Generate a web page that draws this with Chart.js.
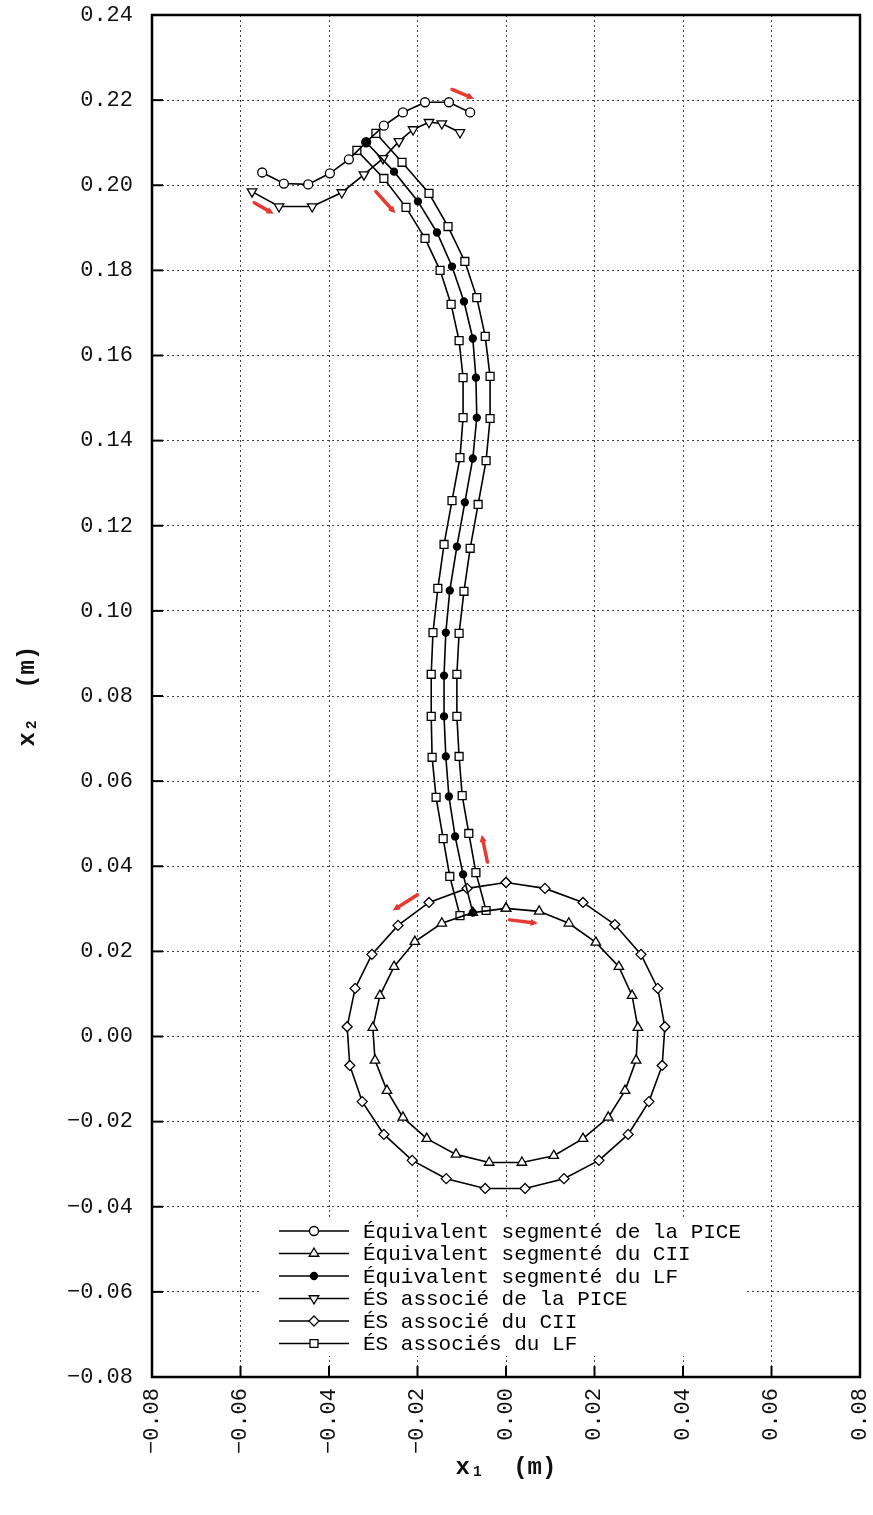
<!DOCTYPE html>
<html>
<head>
<meta charset="utf-8">
<script src="https://cdn.jsdelivr.net/npm/chart.js@4.4.1/dist/chart.umd.min.js"></script>
<style>
html, body { margin: 0; padding: 0; background: #fff; }
canvas { display: block; }
</style>
</head>
<body>
<canvas id="chart" width="873" height="1515"></canvas>
<script>
// ================= TICKS =================
const xTicks = [-0.08, -0.06, -0.04, -0.02, 0.00, 0.02, 0.04, 0.06, 0.08];
const yTicks = [-0.08, -0.06, -0.04, -0.02, 0.00, 0.02, 0.04, 0.06, 0.08,
                0.10, 0.12, 0.14, 0.16, 0.18, 0.20, 0.22, 0.24];

// ================= SERIES =================
// Équivalent segmenté de la PICE
const piceX = [-0.0551, -0.0502, -0.0447, -0.0398, -0.0355, -0.0316, -0.0276, -0.0233, -0.0183, -0.0129, -0.0081];
const piceY = [0.2030, 0.2004, 0.2002, 0.2028, 0.2061, 0.2101, 0.2140, 0.2171, 0.2195, 0.2195, 0.2171];

// Équivalent segmenté du CII (closed loop)
const ciiX = [0.0000, 0.0075, 0.0142, 0.0203, 0.0255, 0.0285, 0.0298, 0.0294, 0.0269, 0.0231, 0.0174, 0.0108, 0.0036,
              -0.0038, -0.0113, -0.0179, -0.0233, -0.0269, -0.0296, -0.0301, -0.0285, -0.0253, -0.0206, -0.0145, -0.0075, 0.0000];
const ciiY = [0.0301, 0.0294, 0.0266, 0.0221, 0.0164, 0.0096, 0.0021, -0.0056, -0.0127, -0.0190, -0.0240, -0.0280, -0.0296,
              -0.0296, -0.0277, -0.0240, -0.0190, -0.0127, -0.0056, 0.0021, 0.0096, 0.0164, 0.0223, 0.0266, 0.0291, 0.0301];

// Équivalent segmenté du LF
const lfX = [-0.0316, -0.0253, -0.0199, -0.0156, -0.0122, -0.0095, -0.0075, -0.0068, -0.0066, -0.0075, -0.0093,
             -0.0111, -0.0127, -0.0136, -0.0140, -0.0140, -0.0136, -0.0129, -0.0115, -0.0097, -0.0075];
const lfY = [0.2101, 0.2032, 0.1962, 0.1889, 0.1809, 0.1727, 0.1640, 0.1548, 0.1454, 0.1358, 0.1255,
             0.1151, 0.1048, 0.0949, 0.0848, 0.0752, 0.0658, 0.0564, 0.0470, 0.0381, 0.0291];

// ÉS associé de la PICE
const esPiceX = [-0.0574, -0.0513, -0.0438, -0.0371, -0.0321, -0.0278, -0.0242, -0.0210, -0.0174, -0.0145, -0.0104];
const esPiceY = [0.1985, 0.1950, 0.1950, 0.1983, 0.2025, 0.2063, 0.2103, 0.2131, 0.2148, 0.2145, 0.2124];

// ÉS associé du CII (closed loop)
const esCiiX = [0.0000, 0.0088, 0.0174, 0.0246, 0.0305, 0.0343, 0.0359, 0.0353, 0.0323, 0.0276, 0.0210, 0.0131, 0.0043,
                -0.0047, -0.0135, -0.0212, -0.0276, -0.0325, -0.0353, -0.0359, -0.0341, -0.0303, -0.0244, -0.0174, -0.0088, 0.0000];
const esCiiY = [0.0362, 0.0348, 0.0315, 0.0263, 0.0193, 0.0113, 0.0023, -0.0068, -0.0153, -0.0230, -0.0291, -0.0334, -0.0357,
                -0.0357, -0.0334, -0.0291, -0.0230, -0.0153, -0.0068, 0.0023, 0.0113, 0.0193, 0.0261, 0.0315, 0.0348, 0.0362];

// ÉS associés du LF (two branches)
const esLfLeftX = [-0.0337, -0.0276, -0.0226, -0.0183, -0.0149, -0.0124, -0.0106, -0.0097, -0.0097, -0.0104, -0.0122,
                   -0.0140, -0.0154, -0.0165, -0.0169, -0.0169, -0.0167, -0.0158, -0.0142, -0.0127, -0.0104];
const esLfLeftY = [0.2082, 0.2016, 0.1948, 0.1875, 0.1800, 0.1720, 0.1635, 0.1548, 0.1454, 0.1360, 0.1259,
                   0.1156, 0.1053, 0.0949, 0.0851, 0.0752, 0.0656, 0.0562, 0.0465, 0.0376, 0.0284];
const esLfRightX = [-0.0294, -0.0235, -0.0174, -0.0131, -0.0093, -0.0066, -0.0047, -0.0036, -0.0036, -0.0045, -0.0063,
                    -0.0081, -0.0095, -0.0106, -0.0111, -0.0111, -0.0106, -0.0099, -0.0084, -0.0068, -0.0045];
const esLfRightY = [0.2122, 0.2054, 0.1981, 0.1903, 0.1821, 0.1736, 0.1645, 0.1551, 0.1452, 0.1353, 0.1250,
                    0.1147, 0.1046, 0.0947, 0.0851, 0.0752, 0.0658, 0.0566, 0.0477, 0.0385, 0.0296];

// red direction arrows: [x0, y0, x1, y1] (data units, head at x1,y1)
const arrows = [
    [-0.0122, 0.2225, -0.0072, 0.2203],
    [-0.0569, 0.1959, -0.0525, 0.1933],
    [-0.0294, 0.1985, -0.0250, 0.1934],
    [-0.0042, 0.0410, -0.0055, 0.0474],
    [-0.0200, 0.0333, -0.0256, 0.0296],
    [ 0.0008, 0.0274,  0.0072, 0.0266]
];

const FONT = "'Liberation Mono', 'DejaVu Sans Mono', monospace";

function toPoints(xs, ys){
    return xs.map((x, i) => ({x: x, y: ys[i]}));
}

function series(label, points, style){
    return Object.assign({
        label: label,
        data: points,
        showLine: true,
        borderColor: '#000',
        borderWidth: 1.6,
        pointBorderColor: '#000',
        pointBorderWidth: 1.3,
        pointBackgroundColor: '#fff',
        pointRadius: 4.5,
        pointRotation: 0,
        tension: 0,
        fill: false,
        order: 1
    }, style);
}

const esLfPoints = toPoints(esLfLeftX, esLfLeftY)
    .concat([{x: null, y: null}])
    .concat(toPoints(esLfRightX, esLfRightY));

const datasets = [
    series('Équivalent segmenté de la PICE', toPoints(piceX, piceY), {pointStyle: 'circle', pointRadius: 4.5}),
    series('Équivalent segmenté du CII', toPoints(ciiX, ciiY), {pointStyle: 'triangle', pointRadius: 5.5}),
    series('Équivalent segmenté du LF', toPoints(lfX, lfY), {pointStyle: 'circle', pointRadius: 3.5, pointBackgroundColor: '#000', order: 0}),
    series('ÉS associé de la PICE', toPoints(esPiceX, esPiceY), {pointStyle: 'triangle', pointRadius: 5.5, pointRotation: 180}),
    series('ÉS associé du CII', toPoints(esCiiX, esCiiY), {pointStyle: 'rectRot', pointRadius: 5}),
    series('ÉS associés du LF', esLfPoints, {pointStyle: 'rect', pointRadius: 5.6, spanGaps: false})
];

// ================= PLUGINS =================

const legendPlugin = {
    id: 'boxLegend',
    afterDatasetsDraw(chart){
        const ctx = chart.ctx;
        const area = chart.chartArea;
        const boxLeft = area.left + 110;
        const boxRight = area.left + 595;
        const boxTop = area.bottom - 157;
        const boxBottom = area.bottom - 21;
        ctx.save();
        ctx.fillStyle = '#fff';
        ctx.fillRect(boxLeft, boxTop, boxRight - boxLeft, boxBottom - boxTop);

        chart.data.datasets.forEach((ds, i) => {
            const y = boxTop + 11 + i * 22.5;
            const lineStart = boxLeft + 17;
            const lineEnd = boxLeft + 87;
            ctx.strokeStyle = '#000';
            ctx.lineWidth = 1.6;
            ctx.beginPath();
            ctx.moveTo(lineStart, y);
            ctx.lineTo(lineEnd, y);
            ctx.stroke();

            ctx.fillStyle = ds.pointBackgroundColor;
            ctx.strokeStyle = '#000';
            ctx.lineWidth = 1.3;
            Chart.helpers.drawPoint(ctx, {
                pointStyle: ds.pointStyle,
                radius: ds.pointRadius,
                rotation: ds.pointRotation,
                borderWidth: 1.3
            }, (lineStart + lineEnd) / 2, y);

            ctx.fillStyle = '#000';
            ctx.font = '21px ' + FONT;
            ctx.textAlign = 'left';
            ctx.textBaseline = 'middle';
            ctx.fillText(ds.label, lineEnd + 14, y + 1);
        });
        ctx.restore();
    }
};

const arrowPlugin = {
    id: 'arrows',
    afterDatasetsDraw(chart){
        const ctx = chart.ctx;
        const xs = chart.scales.x;
        const ys = chart.scales.y;
        ctx.save();
        ctx.strokeStyle = '#e53a33';
        ctx.fillStyle = '#e53a33';
        ctx.lineWidth = 3.5;
        ctx.lineCap = 'round';
        arrows.forEach(a => {
            const x0 = xs.getPixelForValue(a[0]);
            const y0 = ys.getPixelForValue(a[1]);
            const x1 = xs.getPixelForValue(a[2]);
            const y1 = ys.getPixelForValue(a[3]);
            const ang = Math.atan2(y1 - y0, x1 - x0);
            const head = 8;
            ctx.beginPath();
            ctx.moveTo(x0, y0);
            ctx.lineTo(x1 - Math.cos(ang) * head * 0.6, y1 - Math.sin(ang) * head * 0.6);
            ctx.stroke();
            ctx.beginPath();
            ctx.moveTo(x1, y1);
            ctx.lineTo(x1 - head * Math.cos(ang - 0.45), y1 - head * Math.sin(ang - 0.45));
            ctx.lineTo(x1 - head * Math.cos(ang + 0.45), y1 - head * Math.sin(ang + 0.45));
            ctx.closePath();
            ctx.fill();
        });
        ctx.restore();
    }
};

const framePlugin = {
    id: 'frame',
    afterDraw(chart){
        const ctx = chart.ctx;
        const area = chart.chartArea;
        ctx.save();
        ctx.strokeStyle = '#000';
        ctx.lineWidth = 2;
        xTicks.forEach(v => {
            const px = chart.scales.x.getPixelForValue(v);
            ctx.beginPath();
            ctx.moveTo(px, area.bottom);
            ctx.lineTo(px, area.bottom - 11);
            ctx.stroke();
        });
        yTicks.forEach(v => {
            const py = chart.scales.y.getPixelForValue(v);
            ctx.beginPath();
            ctx.moveTo(area.left, py);
            ctx.lineTo(area.left + 11, py);
            ctx.stroke();
        });
        ctx.lineWidth = 2.5;
        ctx.strokeRect(area.left, area.top, area.right - area.left, area.bottom - area.top);
        ctx.restore();
    }
};

function fmt(v){
    return Number(v).toFixed(2).replace('-', '−');
}

// no extra room for overhanging tick labels: the layout padding handles it
function zeroPadding(s){
    s.paddingTop = 0;
    s.paddingBottom = 0;
    s.paddingLeft = 0;
    s.paddingRight = 0;
}

// ================= CHART =================

new Chart(document.getElementById('chart'), {
    type: 'scatter',
    data: { datasets: datasets },
    options: {
        responsive: false,
        animation: false,
        devicePixelRatio: 1,
        layout: { padding: { top: 15, right: 13, bottom: 0, left: 0 } },
        plugins: {
            legend: { display: false },
            tooltip: { enabled: false }
        },
        scales: {
            x: {
                type: 'linear',
                min: -0.08,
                max: 0.08,
                afterBuildTicks: s => { s.ticks = xTicks.map(v => ({value: v})); },
                afterFit: s => { s.height = 138; zeroPadding(s); },
                grid: { color: '#444', lineWidth: 1, drawTicks: false },
                border: { display: false, dash: [2, 3] },
                ticks: {
                    minRotation: 90,
                    maxRotation: 90,
                    padding: 11,
                    color: '#111',
                    font: { family: FONT, size: 22 },
                    callback: v => fmt(v)
                },
                title: {
                    display: true,
                    text: 'x₁  (m)',
                    color: '#111',
                    padding: { top: 0, bottom: 33 },
                    font: { family: FONT, size: 24, weight: 'bold' }
                }
            },
            y: {
                type: 'linear',
                min: -0.08,
                max: 0.24,
                afterBuildTicks: s => { s.ticks = yTicks.map(v => ({value: v})); },
                afterFit: s => { s.width = 152; zeroPadding(s); },
                grid: { color: '#444', lineWidth: 1, drawTicks: false },
                border: { display: false, dash: [2, 3] },
                ticks: {
                    padding: 19,
                    color: '#111',
                    font: { family: FONT, size: 22 },
                    callback: v => fmt(v)
                },
                title: {
                    display: true,
                    text: 'x₂  (m)',
                    color: '#111',
                    padding: { top: 14, bottom: 0 },
                    font: { family: FONT, size: 24, weight: 'bold' }
                }
            }
        }
    },
    plugins: [legendPlugin, arrowPlugin, framePlugin]
});
</script>
</body>
</html>
